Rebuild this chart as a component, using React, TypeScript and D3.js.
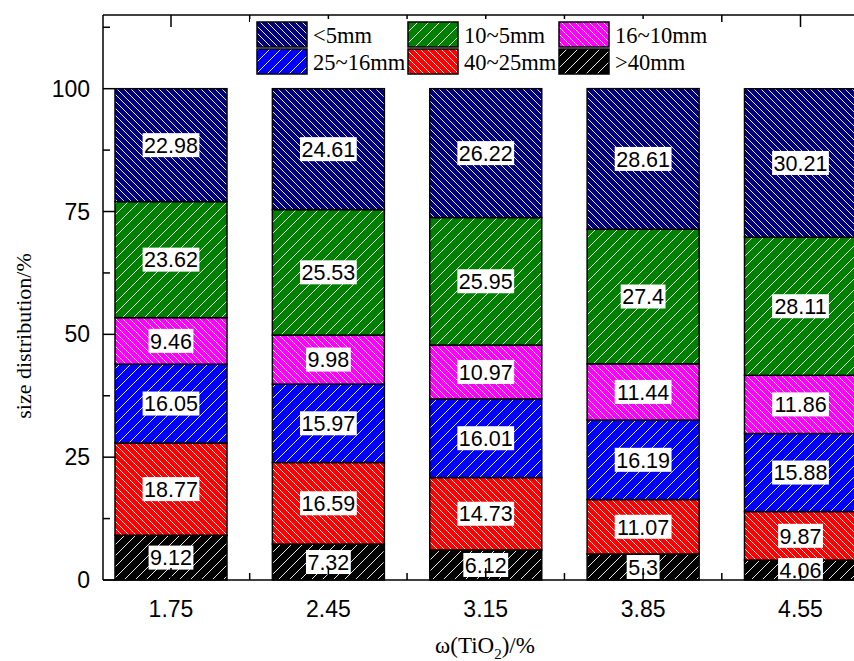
import React from "react";
import * as d3 from "d3";

const categories = ["1.75", "2.45", "3.15", "3.85", "4.55"];
// stacked bottom -> top
const seriesKeys = [">40mm", "40~25mm", "25~16mm", "16~10mm", "10~5mm", "<5mm"];
const gt40 = [9.12, 7.32, 6.12, 5.3, 4.06];
const s40_25 = [18.77, 16.59, 14.73, 11.07, 9.87];
const s25_16 = [16.05, 15.97, 16.01, 16.19, 15.88];
const s16_10 = [9.46, 9.98, 10.97, 11.44, 11.86];
const s10_5 = [23.62, 25.53, 25.95, 27.4, 28.11];
const lt5 = [22.98, 24.61, 26.22, 28.61, 30.21];
const seriesValues = [gt40, s40_25, s25_16, s16_10, s10_5, lt5];
const seriesColors = ["#000000", "#FF0000", "#0000FF", "#FF00FF", "#008000", "#000080"];
const seriesHatch = ["/", "\\", "/", "\\", "/", "\\"];
const legendOrder = ["<5mm", "10~5mm", "16~10mm", "25~16mm", "40~25mm", ">40mm"];
const yTicks = [0, 25, 50, 75, 100];
const yMinorTicks = [12.5, 37.5, 62.5, 87.5, 112.5];

const W = 854;
const H = 661;
const left = 103;
const top = 15;
const bottom = 580;

const SANS = "'Liberation Sans', Arial, Helvetica, sans-serif";
const SERIF = "'Liberation Serif', 'Times New Roman', serif";

function textWidth(s: string, fs: number) {
  let w = 0;
  for (const c of s) w += c === "." ? 0.278 : 0.556;
  return w * fs;
}

export default function App() {
  const y = d3.scaleLinear().domain([0, 115]).range([bottom, top]);
  const x = d3.scalePoint<string>().domain(categories).range([171, 800.5]);
  const step = x.step();
  const barW = 112;

  const rows = categories.map((c, i) => {
    const o: any = { cat: c };
    seriesKeys.forEach((k, j) => (o[k] = seriesValues[j][i]));
    return o;
  });
  const stacked = d3.stack<any>().keys(seriesKeys)(rows);

  const majorX = categories.map((c) => x(c) as number);
  const minorX: number[] = [];
  categories.forEach((c) => {
    const cx = x(c) as number;
    [cx - step / 2, cx + step / 2].forEach((v) => {
      if (v > left && v < W && !minorX.some((m) => Math.abs(m - v) < 1)) minorX.push(v);
    });
  });

  const patId = (i: number) => `hatch-${i}`;
  const labelFs = 21.5;

  return (
    <svg
      width={W}
      height={H}
      style={{ position: "absolute", left: 0, top: 0, background: "#fff" }}
    >
      <defs>
        {seriesKeys.map((k, i) => {
          const back = seriesHatch[i] === "\\";
          const s = back ? 7 : 11;
          const d = back
            ? `M0,0 L${s},${s} M${-2},${s - 2} L2,${s + 2} M${s - 2},-2 L${s + 2},2`
            : `M0,${s} L${s},0 M-2,2 L2,-2 M${s - 2},${s + 2} L${s + 2},${s - 2}`;
          return (
            <pattern key={k} id={patId(i)} patternUnits="userSpaceOnUse" width={s} height={s}>
              <rect width={s} height={s} fill={seriesColors[i]} />
              <path d={d} stroke="#ffffff" strokeWidth={1} opacity={0.9} />
            </pattern>
          );
        })}
      </defs>

      {/* bars */}
      {stacked.map((layer, i) =>
        layer.map((d, j) => {
          const cx = x(categories[j]) as number;
          return (
            <rect
              key={`${i}-${j}`}
              x={cx - barW / 2}
              y={y(d[1])}
              width={barW}
              height={y(d[0]) - y(d[1])}
              fill={`url(#${patId(i)})`}
              stroke="#000"
              strokeWidth={1.5}
            />
          );
        })
      )}

      {/* value labels */}
      {stacked.map((layer, i) =>
        layer.map((d, j) => {
          const cx = x(categories[j]) as number;
          const cy = (y(d[0]) + y(d[1])) / 2;
          const txt = String(seriesValues[i][j]);
          const tw = textWidth(txt, labelFs);
          return (
            <g key={`l-${i}-${j}`}>
              <rect x={cx - tw / 2 - 1.5} y={cy - 12} width={tw + 3} height={24} fill="#fff" />
              <text
                x={cx}
                y={cy + labelFs * 0.36}
                textAnchor="middle"
                fontFamily={SANS}
                fontSize={labelFs}
                fill="#000"
              >
                {txt}
              </text>
            </g>
          );
        })
      )}

      {/* axes */}
      <g stroke="#000" strokeWidth={1.5} fill="none">
        <line x1={left} y1={top} x2={left} y2={bottom} />
        <line x1={left} y1={bottom} x2={W} y2={bottom} />
        <line x1={left} y1={top} x2={W} y2={top} />
        {yTicks.map((t) => (
          <line key={`yt${t}`} x1={left} x2={left + 12} y1={y(t)} y2={y(t)} />
        ))}
        {yMinorTicks.map((t) => (
          <line key={`ym${t}`} x1={left} x2={left + 7} y1={y(t)} y2={y(t)} />
        ))}
        {majorX.map((v) => (
          <g key={`xt${v}`}>
            <line x1={v} x2={v} y1={bottom} y2={bottom - 12} />
            <line x1={v} x2={v} y1={top} y2={top + 12} />
          </g>
        ))}
        {minorX.map((v) => (
          <g key={`xm${v}`}>
            <line x1={v} x2={v} y1={bottom} y2={bottom - 7} />
            <line x1={v} x2={v} y1={top} y2={top + 7} />
          </g>
        ))}
      </g>

      {/* y tick labels */}
      {yTicks.map((t) => (
        <text
          key={`yl${t}`}
          x={90}
          y={y(t) + 8}
          textAnchor="end"
          fontFamily={SANS}
          fontSize={23}
          fill="#000"
        >
          {t}
        </text>
      ))}
      {/* x tick labels */}
      {categories.map((c) => (
        <text
          key={`xl${c}`}
          x={x(c) as number}
          y={617}
          textAnchor="middle"
          fontFamily={SANS}
          fontSize={23}
          fill="#000"
        >
          {c}
        </text>
      ))}

      {/* axis titles */}
      <text
        transform={`translate(23,336) rotate(-90)`}
        dy="0.35em"
        textAnchor="middle"
        fontFamily={SERIF}
        fontSize={22}
        fill="#000"
      >
        size distribution/%
      </text>
      <text x={485} y={653} textAnchor="middle" fontFamily={SERIF} fontSize={23} fill="#000">
        ω(TiO<tspan fontSize={15} dy={6}>2</tspan>
        <tspan dy={-6}>)/%</tspan>
      </text>

      {/* legend */}
      <rect x={250} y={19} width={468} height={58} fill="#fff" />
      {legendOrder.map((name, k) => {
        const idx = seriesKeys.indexOf(name);
        const col = k % 3;
        const row = Math.floor(k / 3);
        const sx = [257, 408, 559][col];
        const sy = [22, 49][row];
        return (
          <g key={`lg${name}`}>
            <rect
              x={sx}
              y={sy}
              width={50}
              height={25}
              fill={`url(#${patId(idx)})`}
              stroke="#000"
              strokeWidth={1.5}
            />
            <text x={sx + 56} y={sy + 21} fontFamily={SERIF} fontSize={22.5} fill="#000">
              {name}
            </text>
          </g>
        );
      })}
    </svg>
  );
}
